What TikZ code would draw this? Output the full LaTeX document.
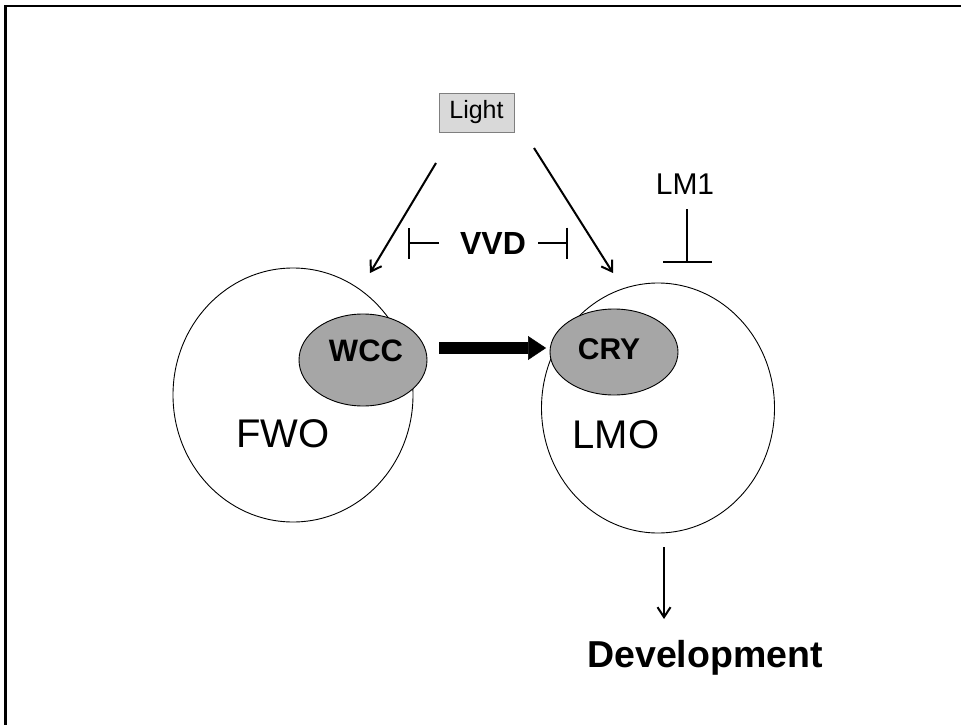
\documentclass[tikz,border=0pt]{standalone}
\usepackage{graphicx}
\usepackage{fontspec}
\setmainfont{Liberation Sans}
\usetikzlibrary{shapes.geometric,arrows.meta}
\definecolor{ovalgray}{HTML}{A6A6A6}
\definecolor{boxgray}{HTML}{D9D9D9}
\definecolor{boxline}{HTML}{7F7F7F}
\begin{document}
\begin{tikzpicture}[x=1pt,y=-1pt,
  organ/.style={ellipse,draw=black,line width=0.9pt,fill=white,inner sep=0pt},
  complex/.style={ellipse,draw=black,line width=0.9pt,fill=ovalgray,inner sep=0pt},
  lbl/.style={inner sep=0pt,anchor=base},
  thinarrow/.style={line width=2pt,-{Straight Barb[length=10pt,width=13pt]}},
  inhib/.style={line width=2.3pt,-{Bar[width=31pt]}},
  bigarrow/.style={line width=12pt,-{Triangle[length=18pt,width=24pt,line width=0.5pt]}},
]
\useasboundingbox (0,0) rectangle (961,725);
\draw[line width=2.7pt,line join=miter] (5.3,725) -- (5.3,6) -- (961,6);

% Light
\node[draw=boxline,line width=0.6pt,fill=boxgray,minimum width=75pt,minimum height=39pt,inner sep=0pt] (light) at (476.5,112.5) {\fontsize{25}{30}\selectfont Light};

% organs
\node[organ,minimum width=240pt,minimum height=254pt] (fwo) at (293,395) {};
\node[organ,minimum width=233pt,minimum height=250pt] (lmo) at (658,408) {};
\node[complex,minimum width=128pt,minimum height=92pt] (wcc) at (363,360) {};
\node[complex,minimum width=128pt,minimum height=86pt] (cry) at (614,352) {};

% labels
\node[lbl,font=\bfseries\fontsize{31}{37}\selectfont] (wcct) at (366,361) {WCC};
\node[lbl,font=\bfseries\fontsize{30}{36}\selectfont] (cryt) at (609,359) {CRY};
\node[lbl,font=\fontsize{40}{48}\selectfont] (fwot) at (283,447) {FWO};
\node[lbl,font=\fontsize{40}{48}\selectfont] (lmot) at (616,448) {LMO};
\node[lbl,font=\fontsize{30}{36}\selectfont] (lm1) at (685,194) {LM1};
\node[lbl,font=\bfseries\fontsize{32}{38}\selectfont] (vvd) at (493,254) {VVD};
\node[lbl,font=\bfseries\fontsize{37.5}{45}\selectfont] (dev) at (705,667) {Development};

% connector end points
\coordinate (la1) at (436,163); \coordinate (la2) at (370,273);
\coordinate (lb1) at (534,148); \coordinate (lb2) at (613,273);
\coordinate (v1) at (439,243); \coordinate (v1e) at (408,243);
\coordinate (v2) at (538,243); \coordinate (v2e) at (568,243);
\coordinate (m1) at (687,209); \coordinate (m1e) at (687,263);
\coordinate (d1) at (664,547); \coordinate (d1e) at (664,619);
\coordinate (w1) at (439,348); \coordinate (w1e) at (546,348);

\draw[thinarrow] (la1) -- (la2);
\draw[thinarrow] (lb1) -- (lb2);
\draw[inhib] (v1) -- (v1e);
\draw[inhib] (v2) -- (v2e);
\draw[line width=2.3pt,-{Bar[width=49pt]}] (m1) -- (m1e);
\draw[thinarrow] (d1) -- (d1e);
\draw[bigarrow] (w1) -- (w1e);
\end{tikzpicture}
\end{document}
